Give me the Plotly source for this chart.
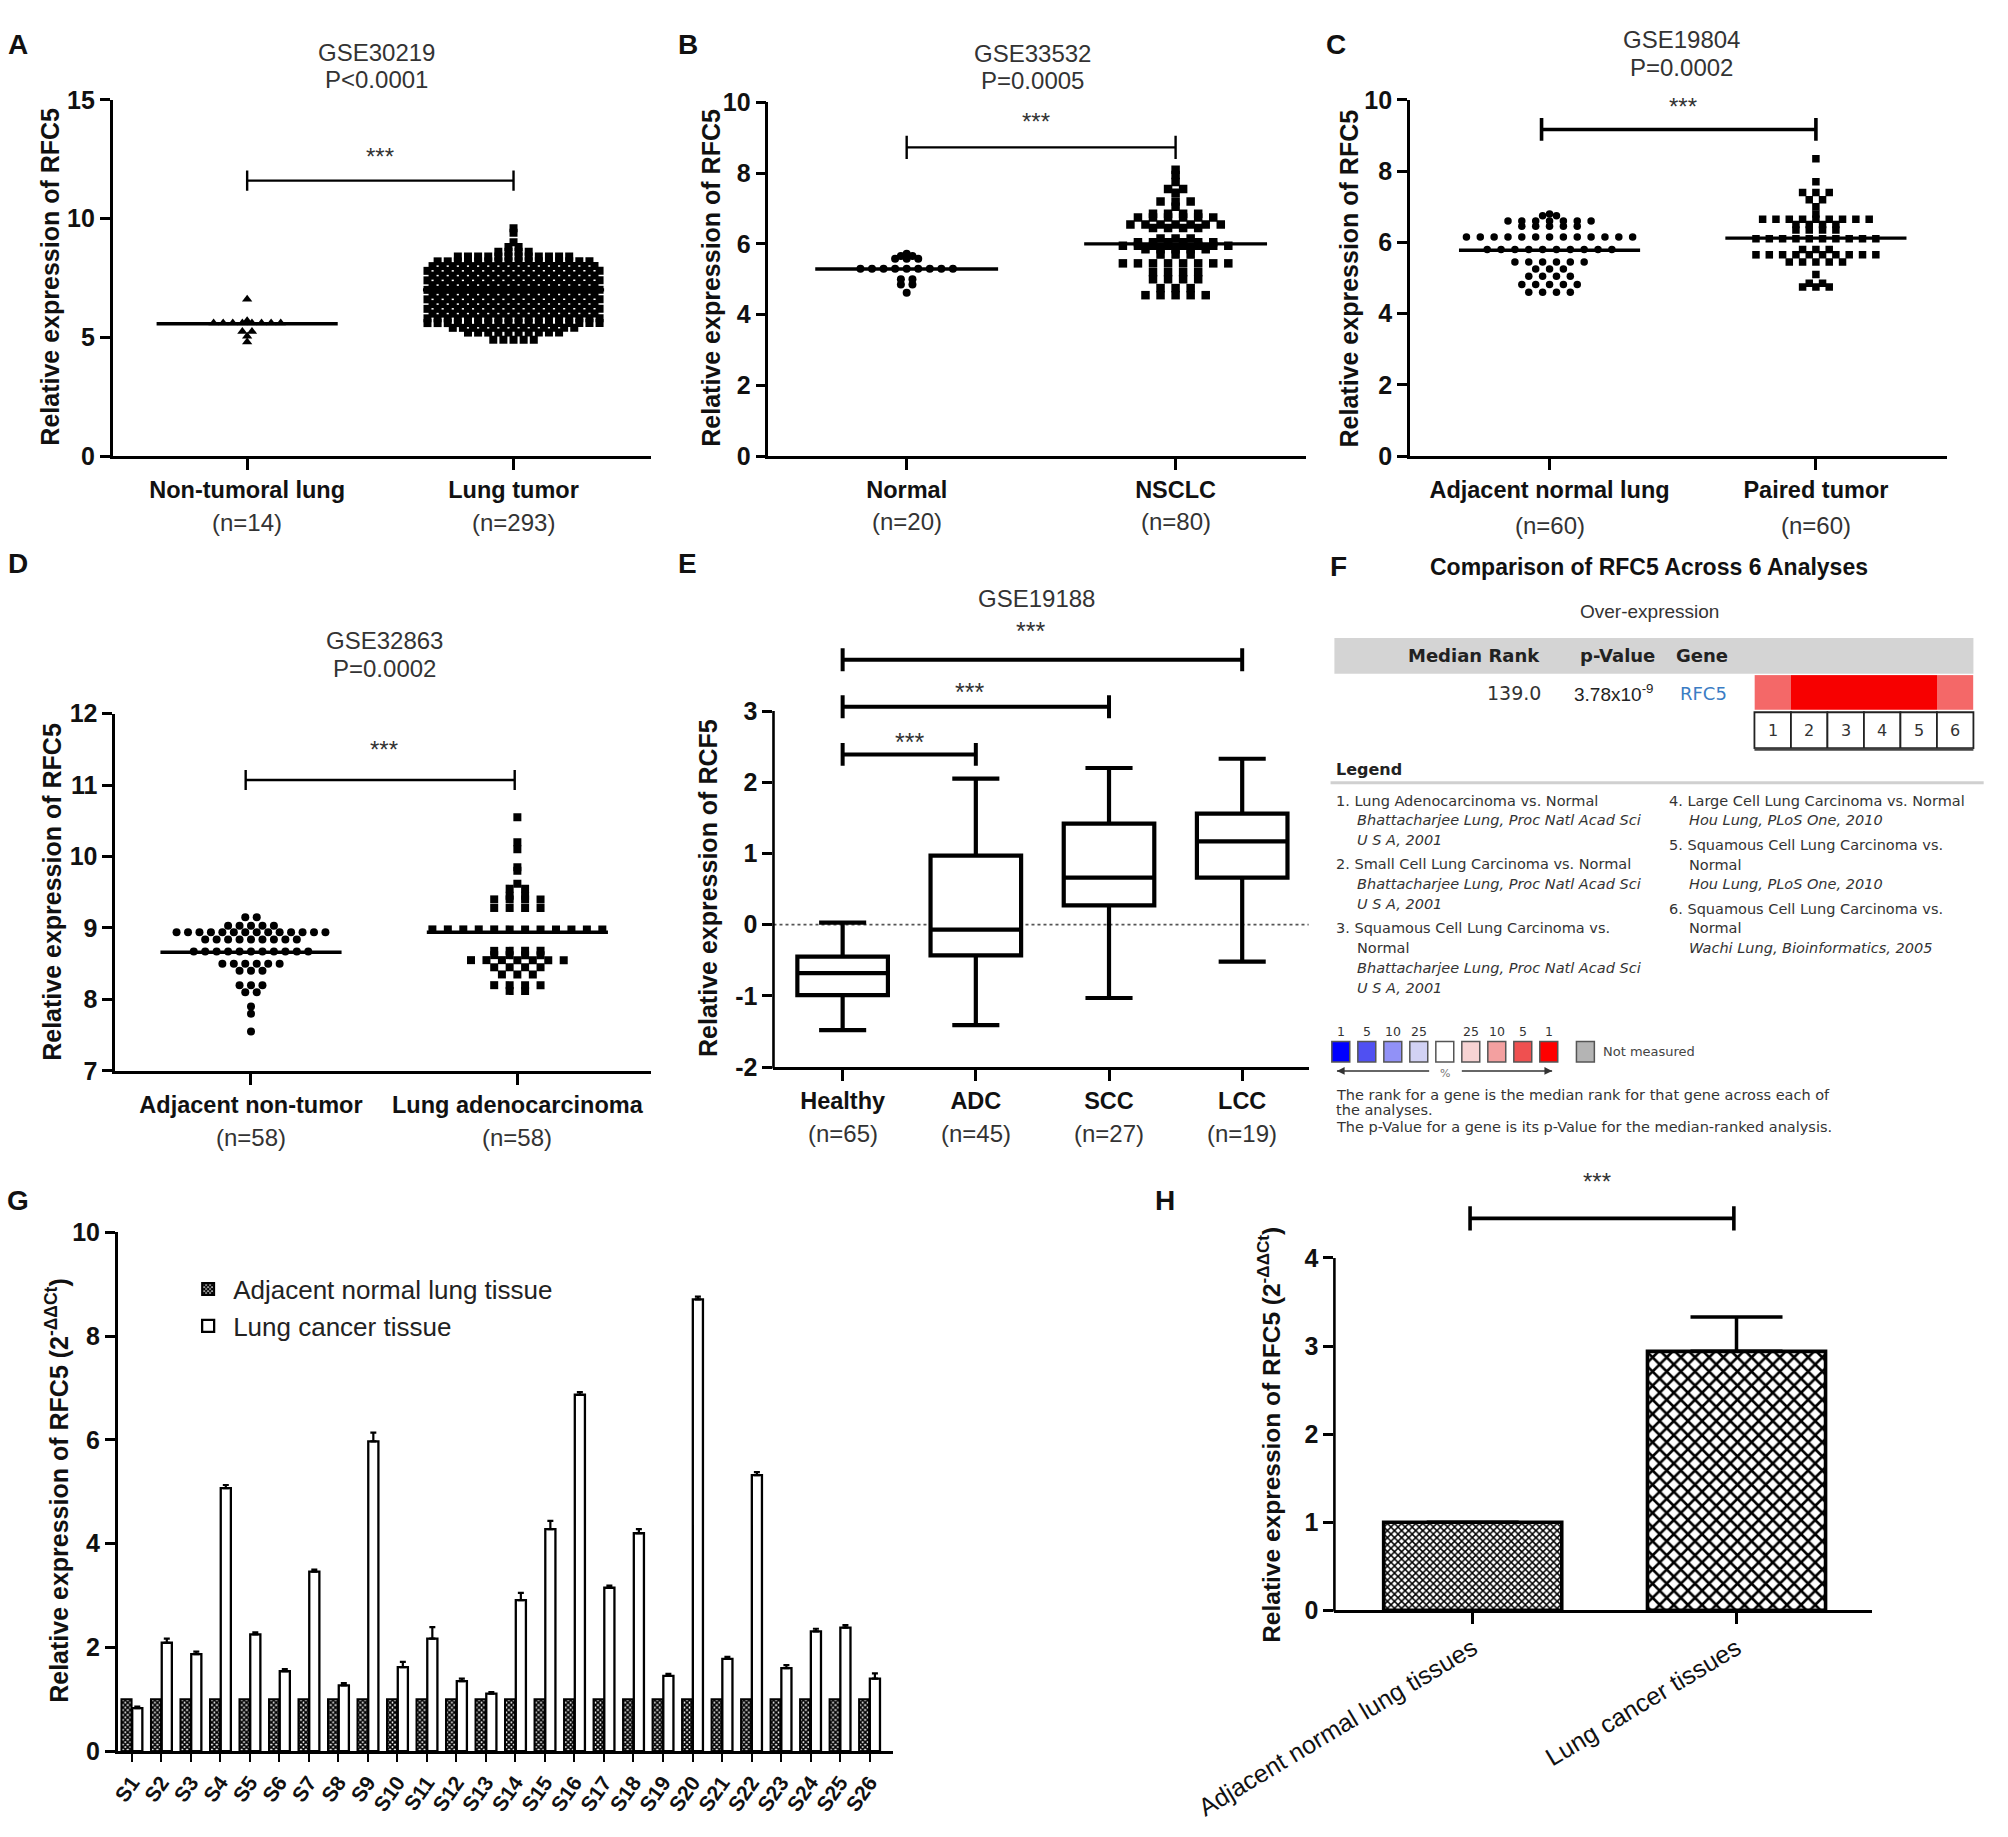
import plotly.graph_objects as go

# ---------------------------------------------------------------- layout frame
SW, SH = 1568.0, 1434.0          # reference frame used to place panels


def px(x):
    return x / SW


def py(y):
    return 1.0 - y / SH


FONT = "Liberation Sans, Arial, Helvetica, sans-serif"
FFONT = "DejaVu Sans, Verdana, sans-serif"
INK = "#111111"
GREY_TXT = "#333333"
AXLINE = 2.6

# ---------------------------------------------------------------- DATA
# A  GSE30219 (row levels of the dot plot and number of dots per row)
A_categories = ["Non-tumoral lung", "Lung tumor"]
A_n = ["(n=14)", "(n=293)"]
A_normal_levels = [6.6, 5.7, 5.6, 5.25, 5.05, 4.8]
A_normal_counts = [1, 1, 8, 2, 1, 1]
A_tumor_levels = [9.6, 9.4, 9.0, 8.8, 8.6, 8.4, 8.2, 8.0, 7.8, 7.6, 7.4, 7.2,
                  7.0, 6.8, 6.6, 6.4, 6.2, 6.0, 5.8, 5.6, 5.4, 5.2, 4.9]
A_tumor_counts = [1, 1, 1, 2, 4, 12, 16, 17, 18, 17, 18, 17,
                  18, 17, 18, 17, 18, 17, 18, 18, 13, 10, 5]
A_means = [5.57, 7.0]
A_yticks = [0, 5, 10, 15]

# B  GSE33532
B_categories = ["Normal", "NSCLC"]
B_n = ["(n=20)", "(n=80)"]
B_normal_levels = [5.72, 5.66, 5.58, 5.3, 5.0, 4.85, 4.62]
B_normal_counts = [1, 2, 3, 9, 2, 2, 1]
B_tumor_levels = [8.1, 7.95, 7.75, 7.55, 7.45, 7.2, 7.05, 6.85, 6.75, 6.55, 6.45,
                  6.15, 6.05, 5.95, 5.85, 5.7, 5.45, 5.2, 5.0, 4.75, 4.55]
B_tumor_counts = [1, 1, 1, 2, 1, 3, 1, 4, 6, 7, 4,
                  3, 6, 8, 5, 3, 8, 4, 4, 3, 5]
B_means = [5.29, 6.0]
B_yticks = [0, 2, 4, 6, 8, 10]

# C  GSE19804
C_categories = ["Adjacent normal lung", "Paired tumor"]
C_n = ["(n=60)", "(n=60)"]
C_normal_levels = [6.8, 6.75, 6.6, 6.45, 6.15, 5.8, 5.45, 5.25, 5.05, 4.82, 4.6]
C_normal_counts = [1, 2, 7, 5, 13, 10, 6, 3, 4, 5, 4]
C_tumor_levels = [8.35, 7.7, 7.4, 7.2, 7.0, 6.8, 6.65, 6.5, 6.35, 6.1, 5.8,
                  5.65, 5.45, 5.1, 4.85, 4.75]
C_tumor_counts = [1, 1, 3, 2, 1, 1, 9, 4, 4, 10, 3, 10, 5, 1, 2, 3]
C_means = [5.78, 6.12]
C_yticks = [0, 2, 4, 6, 8, 10]

# D  GSE32863
D_categories = ["Adjacent non-tumor", "Lung adenocarcinoma"]
D_n = ["(n=58)", "(n=58)"]
D_normal_levels = [9.15, 9.03, 8.94, 8.84, 8.67, 8.5, 8.4, 8.2, 8.1, 7.9, 7.8, 7.55]
D_normal_counts = [2, 5, 14, 9, 11, 6, 3, 3, 2, 1, 1, 1]
D_tumor_levels = [10.55, 10.2, 10.1, 9.85, 9.8, 9.62, 9.55, 9.45, 9.4, 9.28, 8.98,
                  8.68, 8.62, 8.55, 8.45, 8.35, 8.2, 8.12]
D_tumor_counts = [1, 1, 1, 1, 1, 1, 2, 2, 4, 4, 12, 4, 4, 7, 4, 3, 4, 2]
D_means = [8.66, 8.94]
D_yticks = [7, 8, 9, 10, 11, 12]

# E  GSE19188 box plots
E_categories = ["Healthy", "ADC", "SCC", "LCC"]
E_n = ["(n=65)", "(n=45)", "(n=27)", "(n=19)"]
E_min = [-1.48, -1.41, -1.03, -0.52]
E_q1 = [-0.99, -0.43, 0.27, 0.66]
E_median = [-0.68, -0.07, 0.66, 1.17]
E_q3 = [-0.45, 0.97, 1.42, 1.56]
E_max = [0.03, 2.05, 2.20, 2.33]
E_yticks = [-2, -1, 0, 1, 2, 3]
E_yticktext = ["-2", "-1", "0", "1", "2", "3"]

# F  Oncomine comparison
F_cell_percentile = [5, 1, 1, 1, 1, 5]
F_cell_labels = ["1", "2", "3", "4", "5", "6"]
F_scale_labels = ["1", "5", "10", "25", "", "25", "10", "5", "1"]
F_scale_colors = ["#0000ff", "#5050f2", "#9191f7", "#d2d2f4", "#ffffff",
                  "#f7d3d3", "#f3a0a0", "#ef5050", "#ff0000"]

# G  qPCR per sample
G_samples = ["S1", "S2", "S3", "S4", "S5", "S6", "S7", "S8", "S9", "S10", "S11", "S12", "S13",
             "S14", "S15", "S16", "S17", "S18", "S19", "S20", "S21", "S22", "S23", "S24", "S25", "S26"]
G_normal = [1.0, 1.0, 1.0, 1.0, 1.0, 1.0, 1.0, 1.0, 1.0, 1.0, 1.0, 1.0, 1.0,
            1.0, 1.0, 1.0, 1.0, 1.0, 1.0, 1.0, 1.0, 1.0, 1.0, 1.0, 1.0, 1.0]
G_cancer = [0.83, 2.09, 1.87, 5.07, 2.25, 1.54, 3.46, 1.27, 5.97, 1.62, 2.17, 1.35, 1.11,
            2.91, 4.28, 6.87, 3.15, 4.20, 1.45, 8.71, 1.78, 5.32, 1.60, 2.31, 2.38, 1.40]
G_cancer_err = [0.03, 0.08, 0.05, 0.06, 0.04, 0.04, 0.04, 0.04, 0.17, 0.10, 0.22, 0.05, 0.03,
                0.14, 0.16, 0.05, 0.04, 0.08, 0.04, 0.05, 0.04, 0.06, 0.06, 0.05, 0.05, 0.10]
G_yticks = [0, 2, 4, 6, 8, 10]

# H  qPCR summary
H_categories = ["Adjacent normal lung tissues", "Lung cancer tissues"]
H_values = [1.0, 2.94]
H_err = [None, 0.39]
H_yticks = [0, 1, 2, 3, 4]

# ---------------------------------------------------------------- helpers
fig = go.Figure()
axes = {}
shapes = []
annotations = []


def ax_names(n):
    if n == 1:
        return "x", "y", "xaxis", "yaxis"
    return f"x{n}", f"y{n}", f"xaxis{n}", f"yaxis{n}"


def text(t, x, y, size, bold=False, color=INK, family=FONT, xanchor="center",
         yanchor="middle", angle=0, xref="paper", yref="paper"):
    annotations.append(dict(
        text=t, x=x, y=y, xref=xref, yref=yref, showarrow=False,
        xanchor=xanchor, yanchor=yanchor, textangle=angle,
        font=dict(family=family, size=size, color=color,
                  weight="bold" if bold else "normal")))


def xaxis_cfg(xl, xr, rng, tickvals, ticktext, anchor, size=23.5, angle=None,
              bold=True, ticklen=11):
    d = dict(domain=[px(xl), px(xr)], range=rng, anchor=anchor, tickmode="array",
             tickvals=tickvals, ticktext=ticktext, ticks="outside", ticklen=ticklen,
             tickwidth=AXLINE, tickcolor="black", showline=True, linecolor="black",
             linewidth=AXLINE, showgrid=False, zeroline=False, fixedrange=True,
             automargin=False,
             tickfont=dict(family=FONT, size=size, color=INK,
                           weight="bold" if bold else "normal"))
    if angle is not None:
        d["tickangle"] = angle
    return d


def yaxis_cfg(yb, yt, rng, tickvals, ticktext, anchor, showline=True, size=25):
    return dict(domain=[py(yb), py(yt)], range=rng, anchor=anchor, tickmode="array",
                tickvals=tickvals, ticktext=ticktext, ticks="outside", ticklen=10,
                tickwidth=AXLINE, tickcolor="black", showline=showline,
                linecolor="black", linewidth=AXLINE, showgrid=False, zeroline=False,
                fixedrange=True, automargin=False,
                tickfont=dict(family=FONT, size=size, color=INK, weight="bold"))


def swarm(center, levels, counts, step):
    xs, ys = [], []
    for lv, c in zip(levels, counts):
        for i in range(c):
            xs.append(center + (i - (c - 1) / 2.0) * step)
            ys.append(lv)
    return xs, ys


def bracket(xid, yid, x0, x1, yv, d, w):
    fig.add_trace(go.Scatter(
        x=[x0, x1, None, x0, x0, None, x1, x1],
        y=[yv, yv, None, yv - d, yv + d, None, yv - d, yv + d],
        mode="lines", line=dict(color="black", width=w),
        xaxis=xid, yaxis=yid, showlegend=False, hoverinfo="skip"))


def dot_panel(n, box, cats, ns, n_y, yrange, ytv, groups, means, brk, star,
              titles, ytitle_xy, letter):
    xl, xr, yt, yb, c0, c1 = box
    xid, yid, xkey, ykey = ax_names(n)
    rng = [(xl - c0) / (c1 - c0), (xr - c0) / (c1 - c0)]
    axes[xkey] = xaxis_cfg(xl, xr, rng, [0, 1], cats, yid)
    axes[ykey] = yaxis_cfg(yb, yt, yrange, ytv, [str(v) for v in ytv], xid)
    for gi, (levels, counts, symbol, size, step) in enumerate(groups):
        xs, ys = swarm(gi, levels, counts, step)
        fig.add_trace(go.Scatter(
            x=xs, y=ys, mode="markers",
            marker=dict(symbol=symbol, size=size, color="black", line=dict(width=0)),
            xaxis=xid, yaxis=yid, showlegend=False, hoverinfo="skip"))
    for gi, m in enumerate(means):
        fig.add_trace(go.Scatter(
            x=[gi - 0.34, gi + 0.34], y=[m, m], mode="lines",
            line=dict(color="black", width=3.4),
            xaxis=xid, yaxis=yid, showlegend=False, hoverinfo="skip"))
    bracket(xid, yid, *brk)
    text("***", star[0], star[1], 24, color=GREY_TXT, xref=xid, yref=yid)
    for gi, s in enumerate(ns):
        text(s, gi, py(n_y), 24, color=GREY_TXT, xref=xid)
    for (t, tx, ty) in titles:
        text(t, px(tx), py(ty), 24, color=GREY_TXT)
    text("Relative expression of RFC5", px(ytitle_xy[0]), py(ytitle_xy[1]), 25,
         bold=True, angle=-90)
    text(letter[0], px(letter[1]), py(letter[2]), 28, bold=True)


# ---------------------------------------------------------------- panels A-D
dot_panel(1, (88, 508, 78, 356, 193, 401), A_categories, A_n, 408, [0, 15], A_yticks,
          [(A_normal_levels, A_normal_counts, "triangle-up", 9, 0.036),
           (A_tumor_levels, A_tumor_counts, "square", 8, 0.038)],
          A_means, (0, 1, 11.6, 0.43, 2.4), (0.5, 12.63),
          [("GSE30219", 294, 41), ("P<0.0001", 294, 62)], (39, 216), ("A", 14, 35))

dot_panel(2, (600, 1020, 80, 356, 708, 918), B_categories, B_n, 407, [0, 10], B_yticks,
          [(B_normal_levels, B_normal_counts, "circle", 8, 0.043),
           (B_tumor_levels, B_tumor_counts, "square", 8.5, 0.056)],
          B_means, (0, 1, 8.73, 0.33, 2.4), (0.48, 9.46),
          [("GSE33532", 806, 42), ("P=0.0005", 806, 63)], (555, 217), ("B", 537, 35))

dot_panel(3, (1101, 1520, 78, 356, 1210, 1418), C_categories, C_n, 410, [0, 10], C_yticks,
          [(C_normal_levels, C_normal_counts, "circle", 7.5, 0.052),
           (C_tumor_levels, C_tumor_counts, "square", 7.5, 0.05)],
          C_means, (-0.03, 1.0, 9.17, 0.32, 3.6), (0.5, 9.82),
          [("GSE19804", 1313, 31), ("P=0.0002", 1313, 53)], (1053, 217), ("C", 1043, 35))

dot_panel(4, (90, 508, 557, 836, 196, 404), D_categories, D_n, 888, [7, 12], D_yticks,
          [(D_normal_levels, D_normal_counts, "circle", 8, 0.043),
           (D_tumor_levels, D_tumor_counts, "square", 8, 0.058)],
          D_means, (-0.02, 0.99, 11.07, 0.14, 2.4), (0.5, 11.5),
          [("GSE32863", 300, 500), ("P=0.0002", 300, 522)], (40, 696), ("D", 14, 440))

# ---------------------------------------------------------------- panel E
xl, xr, c0, sp = 604, 1022, 658, 104.0
axes["xaxis5"] = xaxis_cfg(xl, xr, [(xl - c0) / sp, (xr - c0) / sp], [0, 1, 2, 3],
                           E_categories, "y5")
axes["yaxis5"] = yaxis_cfg(833, 477.2, [-2, 4.4], E_yticks, E_yticktext, "x5",
                           showline=False)
shapes.append(dict(type="line", xref="paper", yref="paper", x0=px(604), x1=px(604),
                   y0=py(833) - 0.0007, y1=py(555), line=dict(color="black", width=AXLINE)))
shapes.append(dict(type="line", xref="x5", yref="y5", x0=(xl - c0) / sp, x1=(xr - c0) / sp,
                   y0=0, y1=0, layer="below", line=dict(color="#555555", width=1.6, dash="dot")))
fig.add_trace(go.Box(
    x=[0, 1, 2, 3], q1=E_q1, median=E_median, q3=E_q3,
    lowerfence=E_min, upperfence=E_max, width=0.68, whiskerwidth=0.52,
    line=dict(color="black", width=4.2), fillcolor="white", boxpoints=False,
    xaxis="x5", yaxis="y5", showlegend=False, hoverinfo="skip"))
for (x0, x1, yv) in [(0, 1, 2.39), (0, 2, 3.06), (0, 3, 3.72)]:
    bracket("x5", "y5", x0, x1, yv, 0.16, 4.0)
for (sx, sy) in [(0.5, 2.57), (0.95, 3.27), (1.41, 4.12)]:
    text("***", sx, sy, 25, color=GREY_TXT, xref="x5", yref="y5")
for gi, s in enumerate(E_n):
    text(s, gi, py(885), 24, color=GREY_TXT, xref="x5")
text("GSE19188", px(809), py(467), 24, color=GREY_TXT)
text("Relative expression of RCF5", px(553), py(693), 25, bold=True, angle=-90)
text("E", px(537), py(440), 28, bold=True)

# ---------------------------------------------------------------- panel F
text("F", px(1045), py(442), 28, bold=True)
text("Comparison of RFC5 Across 6 Analyses", px(1288), py(443), 23, bold=True)
text("Over-expression", px(1288), py(477), 19, color=GREY_TXT)
shapes.append(dict(type="rect", xref="paper", yref="paper", x0=px(1042), x1=px(1541),
                   y0=py(526), y1=py(498), fillcolor="#d4d4d4", line=dict(width=0),
                   layer="below"))
text("Median Rank", px(1151), py(512), 18, bold=True, family=FFONT, color="#222")
text("p-Value", px(1263), py(512), 18, bold=True, family=FFONT, color="#222")
text("Gene", px(1329), py(512), 18, bold=True, family=FFONT, color="#222")
text("139.0", px(1205), py(541), 19, family=FFONT, color="#333", xanchor="right")
text("3.78x10<sup>-9</sup>", px(1260), py(541), 19, family=FONT, color="#222")
text("RFC5", px(1330), py(541), 18, family=FFONT, color="#3a7cc4")

axes["xaxis8"] = dict(domain=[px(1370), px(1541)], range=[0.5, 6.5], visible=False,
                      fixedrange=True, anchor="y8", automargin=False)
axes["yaxis8"] = dict(domain=[py(554), py(527)], range=[-0.5, 0.5], visible=False,
                      fixedrange=True, anchor="x8", automargin=False)
fig.add_trace(go.Heatmap(z=[F_cell_percentile], x=[1, 2, 3, 4, 5, 6], y=[0], zmin=1, zmax=5,
                         colorscale=[[0, "#f70000"], [1, "#f46868"]], showscale=False,
                         xaxis="x8", yaxis="y8", hoverinfo="skip"))
cell_w = (1541 - 1370) / 6.0
for i, lab in enumerate(F_cell_labels):
    shapes.append(dict(type="rect", xref="paper", yref="paper",
                       x0=px(1370 + i * cell_w), x1=px(1370 + (i + 1) * cell_w),
                       y0=py(584), y1=py(556), fillcolor="white",
                       line=dict(color="#222", width=1.8)))
    text(lab, px(1370 + (i + 0.5) * cell_w), py(570), 16, family=FFONT, color="#333")
shapes.append(dict(type="line", xref="paper", yref="paper", x0=px(1370), x1=px(1541),
                   y0=py(585), y1=py(585), line=dict(color="#444", width=2.5)))

text("Legend", px(1042), py(601), 16, bold=True, family=FFONT, xanchor="left", color="#222")
shapes.append(dict(type="line", xref="paper", yref="paper", x0=px(1039), x1=px(1549),
                   y0=py(611), y1=py(611), line=dict(color="#d0d0d0", width=3)))
legend_lines = [
    ("1. Lung Adenocarcinoma vs. Normal", 1042, 625, False),
    ("Bhattacharjee Lung, Proc Natl Acad Sci", 1058, 640, True),
    ("U S A, 2001", 1058, 655.5, True),
    ("2. Small Cell Lung Carcinoma vs. Normal", 1042, 674.5, False),
    ("Bhattacharjee Lung, Proc Natl Acad Sci", 1058, 690, True),
    ("U S A, 2001", 1058, 705.5, True),
    ("3. Squamous Cell Lung Carcinoma vs.", 1042, 724.5, False),
    ("Normal", 1058, 740, False),
    ("Bhattacharjee Lung, Proc Natl Acad Sci", 1058, 755.5, True),
    ("U S A, 2001", 1058, 771, True),
    ("4. Large Cell Lung Carcinoma vs. Normal", 1302, 625, False),
    ("Hou Lung, PLoS One, 2010", 1317.5, 640, True),
    ("5. Squamous Cell Lung Carcinoma vs.", 1302, 659.5, False),
    ("Normal", 1317.5, 675, False),
    ("Hou Lung, PLoS One, 2010", 1317.5, 690, True),
    ("6. Squamous Cell Lung Carcinoma vs.", 1302, 709.5, False),
    ("Normal", 1317.5, 724.5, False),
    ("Wachi Lung, Bioinformatics, 2005", 1317.5, 740, True),
]
for (t, lx, ly, it) in legend_lines:
    text(f"<i>{t}</i>" if it else t, px(lx), py(ly), 14.5, family=FFONT,
         color="#333", xanchor="left")

for i, (lab, col) in enumerate(zip(F_scale_labels, F_scale_colors)):
    x0 = 1040 + 20.3 * i
    shapes.append(dict(type="rect", xref="paper", yref="paper", x0=px(x0), x1=px(x0 + 14),
                       y0=py(829), y1=py(813), fillcolor=col,
                       line=dict(color="#555", width=1.5)))
    if lab:
        text(lab, px(x0 + 7), py(805.5), 12.5, family=FFONT, color="#333")
shapes.append(dict(type="rect", xref="paper", yref="paper", x0=px(1231), x1=px(1245),
                   y0=py(829), y1=py(813), fillcolor="#b4b4b4",
                   line=dict(color="#555", width=1.5)))
text("Not measured", px(1250), py(821), 13, family=FFONT, color="#444", xanchor="left")
# scale arrows (line + head)
for (x_tail, x_head) in [(1116, 1044), (1141.5, 1212)]:
    shapes.append(dict(type="line", xref="paper", yref="paper", x0=px(x_tail),
                       x1=px(x_head), y0=py(836), y1=py(836),
                       line=dict(color="#333", width=1.6)))
    dirn = 1 if x_head > x_tail else -1
    shapes.append(dict(type="path", xref="paper", yref="paper",
                       path=(f"M {px(x_head)} {py(836)} L {px(x_head - dirn * 6)} {py(833)} "
                             f"L {px(x_head - dirn * 6)} {py(839)} Z"),
                       fillcolor="#333", line=dict(width=0)))
text("%", px(1128), py(838), 11, family=FFONT, color="#777")
text("The rank for a gene is the median rank for that gene across each of",
     px(1042), py(855), 14.5, family=FFONT, color="#333", xanchor="left")
text("the analyses.", px(1042), py(866.5), 14.5, family=FFONT, color="#333", xanchor="left")
text("The p-Value for a gene is its p-Value for the median-ranked analysis.",
     px(1042), py(880), 14.5, family=FFONT, color="#333", xanchor="left")

# ---------------------------------------------------------------- panel G
gx0, gx1, gc0, gsp = 92, 697, 103, 23.04
axes["xaxis6"] = dict(domain=[px(gx0), px(gx1)], range=[(gx0 - gc0) / gsp, (gx1 - gc0) / gsp],
                      anchor="y6", type="category", ticks="outside", ticklen=8,
                      tickwidth=2.2, tickcolor="black", showline=True, linecolor="black",
                      linewidth=AXLINE, showgrid=False, zeroline=False, fixedrange=True,
                      tickangle=-55, automargin=False,
                      tickfont=dict(family=FONT, size=21, color=INK, weight="bold"))
axes["yaxis6"] = yaxis_cfg(1367, 962, [0, 10], G_yticks, [str(v) for v in G_yticks], "x6")
fig.add_trace(go.Bar(
    x=G_samples, y=G_normal, name="Adjacent normal lung tissue", legendgroup="n",
    marker=dict(color="white", line=dict(color="black", width=2),
                pattern=dict(shape="x", size=3.5, solidity=0.75, fgcolor="black",
                             bgcolor="white")),
    xaxis="x6", yaxis="y6", hoverinfo="skip"))
fig.add_trace(go.Bar(
    x=G_samples, y=G_cancer, name="Lung cancer tissue", legendgroup="c",
    marker=dict(color="white", line=dict(color="black", width=2.3)),
    error_y=dict(type="data", symmetric=False, array=G_cancer_err,
                 arrayminus=[0] * len(G_cancer_err), color="black", thickness=2.2, width=3),
    xaxis="x6", yaxis="y6", hoverinfo="skip"))
text("Relative expression of RFC5 (2<sup>-ΔΔCt</sup>)", px(44.5), py(1163), 25,
     bold=True, angle=-90)
text("G", px(14), py(937), 28, bold=True)

# ---------------------------------------------------------------- panel H
hx0, hx1, hc0, hc1 = 1042, 1462, 1150, 1356
axes["xaxis7"] = xaxis_cfg(hx0, hx1, [(hx0 - hc0) / (hc1 - hc0), (hx1 - hc0) / (hc1 - hc0)],
                           [0, 1], H_categories, "y7", size=25, angle=-31, bold=False)
axes["yaxis7"] = yaxis_cfg(1257, 899.5, [0, 5.2], H_yticks, [str(v) for v in H_yticks],
                           "x7", showline=False)
shapes.append(dict(type="line", xref="paper", yref="paper", x0=px(hx0), x1=px(hx0),
                   y0=py(1257) - 0.0007, y1=py(982), line=dict(color="black", width=AXLINE)))
fig.add_trace(go.Bar(
    x=[0, 1], y=H_values, width=0.675, showlegend=False,
    marker=dict(color="white", line=dict(color="black", width=3.6),
                pattern=dict(shape=["x", "x"], size=[5, 10], solidity=[0.5, 0.45],
                             fgcolor="black", bgcolor="white")),
    error_y=dict(type="data", symmetric=False, array=H_err, arrayminus=[0, 0],
                 color="black", thickness=3.5, width=46),
    xaxis="x7", yaxis="y7", hoverinfo="skip"))
bracket("x7", "y7", -0.01, 0.99, 4.45, 0.137, 3.6)
text("***", 0.47, 4.87, 24, color=GREY_TXT, xref="x7", yref="y7")
text("Relative expression of RFC5 (2<sup>-ΔΔCt</sup>)", px(991), py(1120), 24.5,
     bold=True, angle=-90)
text("H", px(910), py(937), 28, bold=True)

# ---------------------------------------------------------------- figure
fig.update_layout(
    template="none",
    width=2008, height=1837, autosize=False,
    margin=dict(l=0, r=0, t=0, b=0, pad=0),
    paper_bgcolor="white", plot_bgcolor="white",
    font=dict(family=FONT, color=INK),
    barmode="group", bargap=0.27, bargroupgap=0.06,
    shapes=shapes, annotations=annotations,
    showlegend=True,
    legend=dict(x=px(143), y=py(988), xanchor="left", yanchor="top",
                font=dict(family=FONT, size=26, color="#222"),
                bgcolor="rgba(0,0,0,0)", itemwidth=40, tracegroupgap=12,
                traceorder="normal"),
    **axes,
)

fig.write_html("out.html", config={"displayModeBar": False},
               post_script="document.body.style.margin='0px';")
